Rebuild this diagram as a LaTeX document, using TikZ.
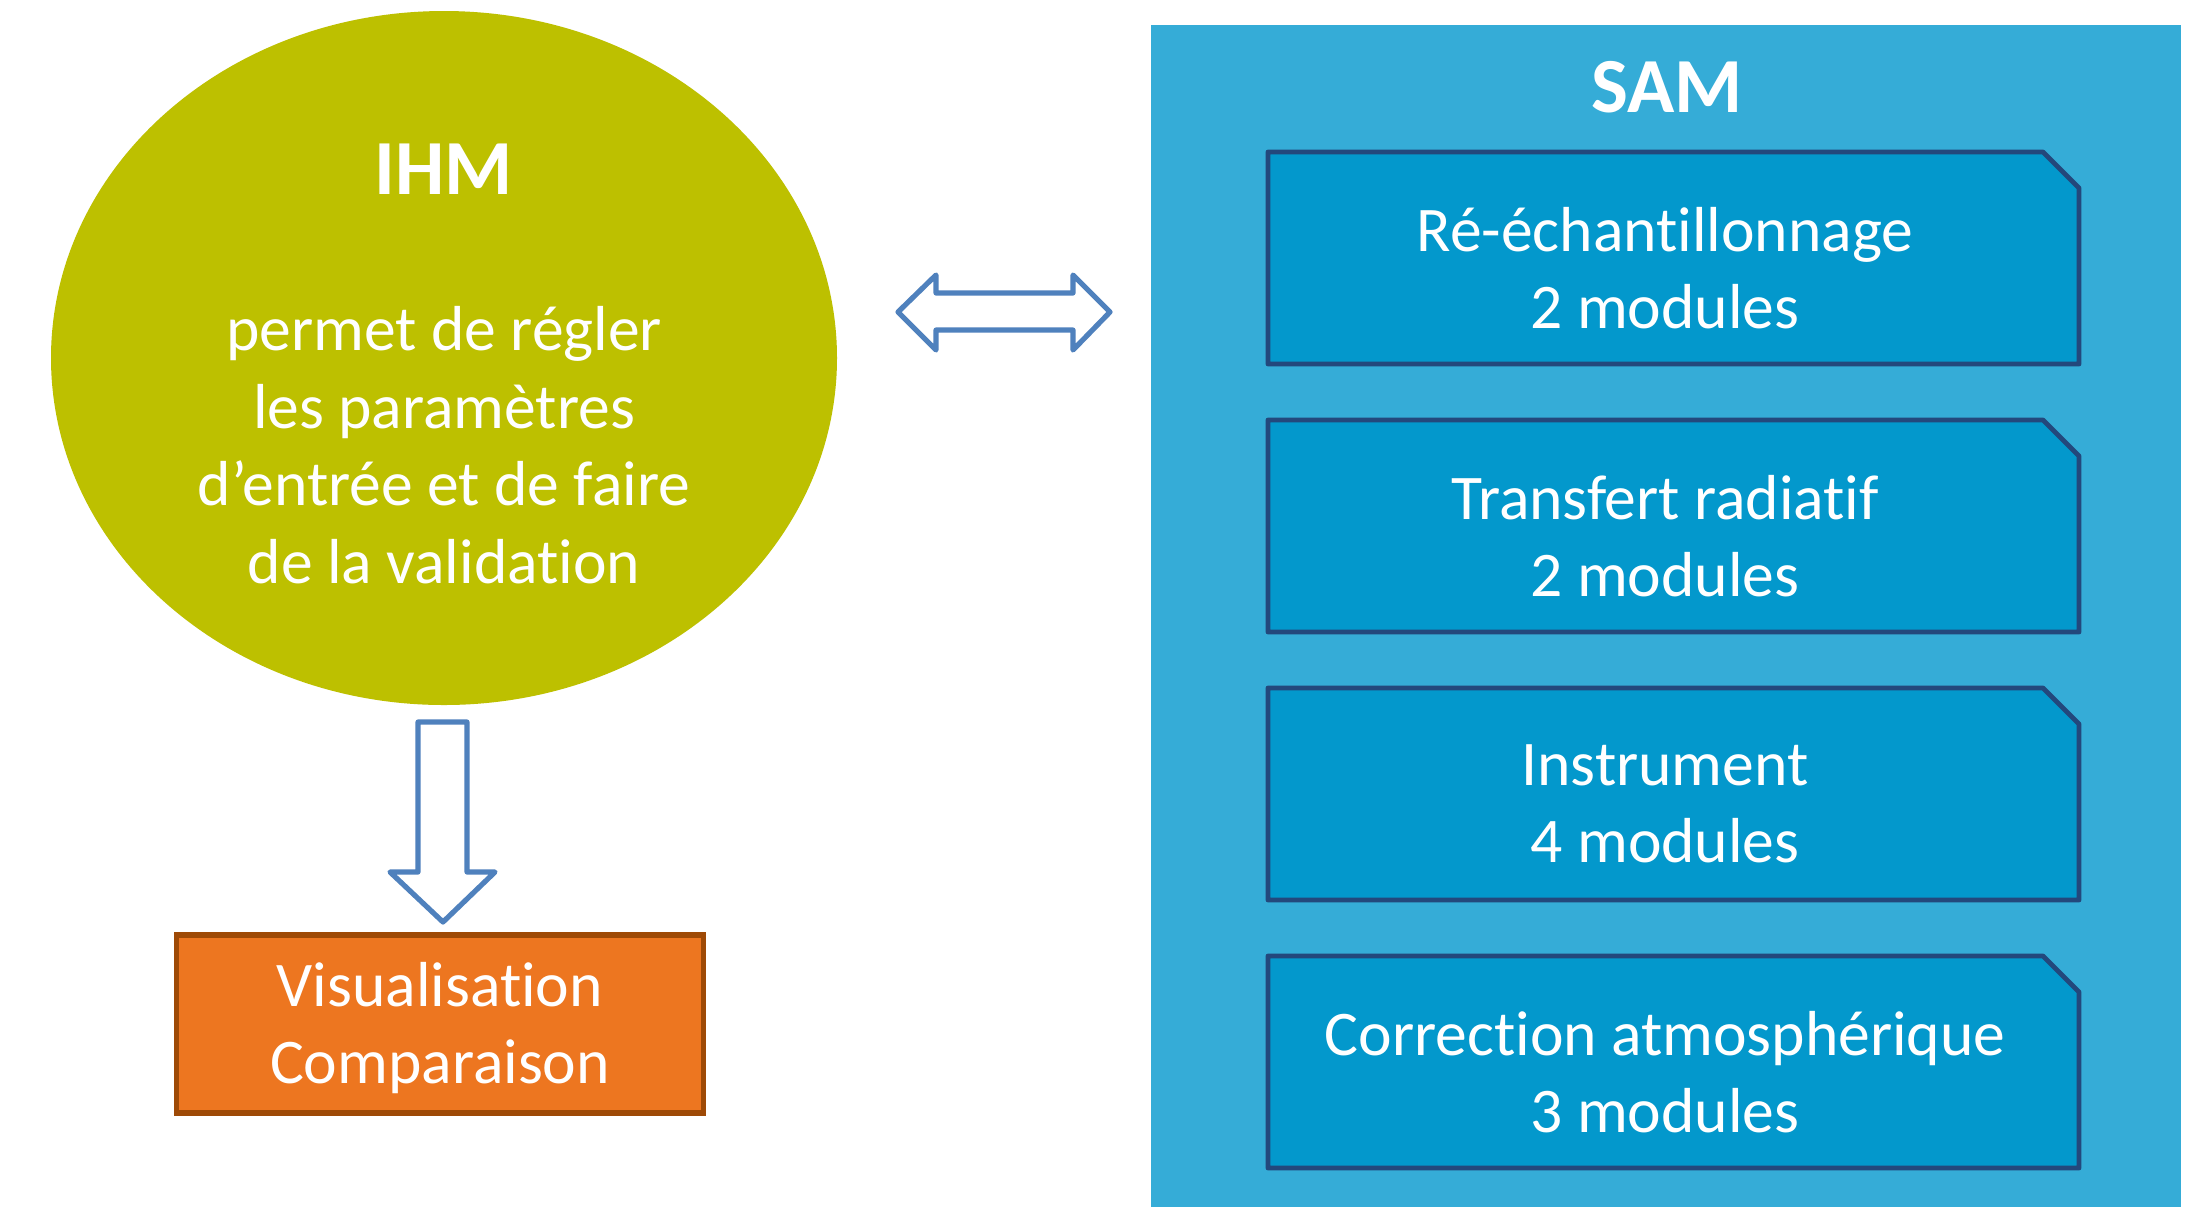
\documentclass[tikz,border=0pt]{standalone}
\usepackage{fontspec}
\setmainfont{Carlito}[Ligatures=NoCommon]
\usetikzlibrary{shapes.geometric}
\newcommand\noLig{\kern0pt }
\definecolor{ihmcol}{RGB}{189,192,0}
\definecolor{samout}{RGB}{53,172,215}
\definecolor{samin}{RGB}{3,152,204}
\definecolor{navy}{RGB}{35,72,124}
\definecolor{arrowblue}{RGB}{79,129,189}
\definecolor{orangefill}{RGB}{237,118,32}
\definecolor{orangeedge}{RGB}{158,74,6}
\begin{document}
\begin{tikzpicture}[x=0.5pt,y=-0.5pt,
  txt/.style={text=white,align=center,font=\fontsize{31.8}{38.8}\selectfont},
  ttl/.style={text=white,font=\fontsize{39}{46}\selectfont\bfseries},
  modbox/.style={fill=samin,draw=navy,line width=2.4pt,line join=round},
  blockarrow/.style={draw=arrowblue,fill=white,line width=2.6pt,line join=round}]
\useasboundingbox (0,0) rectangle (2212,1207);
\fill[white] (0,0) rectangle (2212,1207);
% SAM panel
\fill[samout] (1151,25) rectangle (2181,1207);
\node[ttl] (sam) at (1667,87) {SAM};
\foreach \t/\n/\a/\b in {152/m1/Ré-échant\noLig illonnage/2 modules,
                         420/m2/Transfert radiat\noLig if/2 modules,
                         688/m3/Instrument/4 modules,
                         956/m4/Correct\noLig ion atmosphérique/3 modules}{
  \draw[modbox] (1268,\t) -- (2043,\t) -- (2079,\t+36) -- (2079,\t+212) -- (1268,\t+212) -- cycle;
  \node[txt] (\n) at (1665,\t+116) {\a\\\b};
}
% IHM ellipse
\node[ellipse, fill=ihmcol, minimum width=393pt, minimum height=347pt, inner sep=0pt] (ihm) at (444,358) {};
\node[ttl] (ihmtitle) at (444,169) {IHM};
\node[txt] (ihmtext) at (444,445) {permet de régler\\les paramètres\\d’entrée et de faire\\de la validat\noLig ion};
% double arrow
\draw[blockarrow] (898,312) -- (936,275) -- (936,293) -- (1073,293) -- (1073,275) -- (1110,312)
  -- (1073,350) -- (1073,330) -- (936,330) -- (936,350) -- cycle;
% down arrow
\draw[blockarrow] (418,722) -- (467,722) -- (467,872) -- (495,872) -- (443,922) -- (390,872) -- (418,872) -- cycle;
% orange box
\node[draw=orangeedge, fill=orangefill, line width=2.6pt, minimum width=263.5pt, minimum height=89pt, inner sep=0pt] (vis) at (440,1024) {};
\node[txt] (vistext) at (440,1028) {Visualisat\noLig ion\\Comparaison};
\end{tikzpicture}
\end{document}
